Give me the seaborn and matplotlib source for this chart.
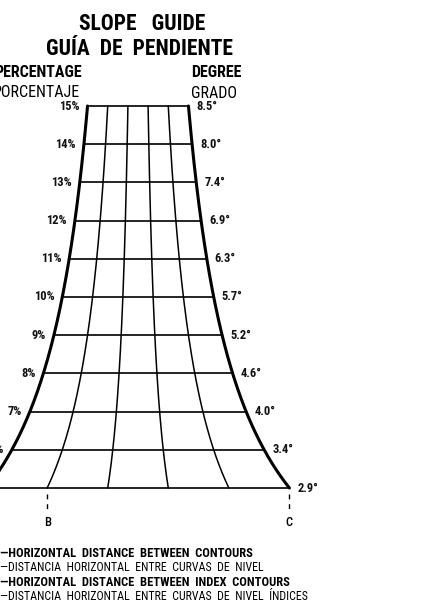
import numpy as np
import pandas as pd
import matplotlib
matplotlib.use("Agg")
import matplotlib.pyplot as plt
import seaborn as sns

# slope rows of the guide, top to bottom
percent = [15, 14, 13, 12, 11, 10, 9, 8, 7, 6, 5]
percent_labels = ["15%", "14%", "13%", "12%", "11%", "10%", "9%", "8%", "7%", "6%", "5%"]
degree_labels = ["8.5°", "8.0°", "7.4°", "6.9°", "6.3°", "5.7°", "5.2°", "4.6°", "4.0°", "3.4°", "2.9°"]
# fractions across the guide (5 divisions)
fractions = [0.0, 0.2, 0.4, 0.6, 0.8, 1.0]
# B and C markers sit on the 2nd and last division line
markers = {"B": 0.2, "C": 1.0}

legend_lines = [
    ("HORIZONTAL  DISTANCE  BETWEEN  CONTOURS", "bold"),
    ("DISTANCIA  HORIZONTAL  ENTRE  CURVAS  DE  NIVEL", "normal"),
    ("HORIZONTAL  DISTANCE  BETWEEN  INDEX  CONTOURS", "bold"),
    ("DISTANCIA  HORIZONTAL  ENTRE  CURVAS  DE  NIVEL  ÍNDICES", "normal"),
]

W, H = 446, 607
CX = 138.0      # centre of the guide (px)
SPAN = 1514.0   # full width * slope (px * %)


def guide_x(s, f):
    s = np.asarray(s, dtype=float)
    return CX + (f - 0.5) * SPAN / s


sns.set_theme(style="white")
plt.rcParams["font.family"] = ["Roboto Condensed", "DejaVu Sans"]

fig = plt.figure(figsize=(W / 100, H / 100), dpi=100)
ax = fig.add_axes([0, 0, 1, 1])

# pixel rows: 15% at y=106, 5% at y=488
px_per = (488 - 106) / 10.0
ax.set_xlim(0, W)
ax.set_ylim(5 - (H - 488) / px_per, 15 + 106 / px_per)
ax.axis("off")

# curved division lines
s_fine = np.linspace(min(percent), max(percent), 300)
rows = []
for i, f in enumerate(fractions):
    for s in s_fine:
        rows.append({"line": i, "x": float(guide_x(s, f)), "y": s,
                     "edge": f in (0.0, 1.0)})
vdf = pd.DataFrame(rows)
sns.lineplot(data=vdf[vdf.edge], x="x", y="y", units="line", estimator=None,
             sort=False, color="black", lw=2.2, ax=ax)
sns.lineplot(data=vdf[~vdf.edge], x="x", y="y", units="line", estimator=None,
             sort=False, color="black", lw=1.1, ax=ax)

# horizontal slope rows
hrows = []
for s in percent:
    for f in (0.0, 1.0):
        hrows.append({"row": s, "x": float(guide_x(s, f)), "y": s})
hdf = pd.DataFrame(hrows)
sns.lineplot(data=hdf, x="x", y="y", units="row", estimator=None, sort=False,
             color="black", lw=1.2, ax=ax)

# row labels
for s, pl, dl in zip(percent, percent_labels, degree_labels):
    ax.text(guide_x(s, 0.0) - 8, s, pl, ha="right", va="center",
            fontsize=9, fontweight="bold", color="#111111")
    ax.text(guide_x(s, 1.0) + 8, s, dl, ha="left", va="center",
            fontsize=9, fontweight="bold", color="#111111")

# B / C markers
s_low = min(percent)
for name, f in markers.items():
    xm = float(guide_x(s_low, f))
    ax.plot([xm, xm], [s_low - 6 / px_per, s_low - 22 / px_per], color="black",
            lw=1.0, linestyle=(0, (3.5, 3.5)))
    ax.text(xm, s_low - 34 / px_per, name, ha="center", va="center",
            fontsize=9, fontweight="medium", color="black")


def ftext(x, y, s, **kw):
    fig.text(x / W, 1 - y / H, s, color="black", **kw)


ftext(142, 30, "SLOPE   GUIDE", ha="center", va="baseline", fontsize=15.5, fontweight="bold")
ftext(139, 55, "GUÍA  DE  PENDIENTE", ha="center", va="baseline", fontsize=15.5, fontweight="bold")
ftext(82, 77, "PERCENTAGE", ha="right", va="baseline", fontsize=11.5, fontweight="bold")
ftext(80, 97, "PORCENTAJE", ha="right", va="baseline", fontsize=11.5)
ftext(191, 77, "DEGREE", ha="left", va="baseline", fontsize=11.5, fontweight="bold")
ftext(191, 98, "GRADO", ha="left", va="baseline", fontsize=11.5)

for i, (txt, wt) in enumerate(legend_lines):
    ftext(0, 557 + i * 14.3, "—" + txt, ha="left", va="baseline",
          fontsize=9 if wt == "bold" else 8.6, fontweight=wt)

fig.savefig("out.png", dpi=100, facecolor="white")
